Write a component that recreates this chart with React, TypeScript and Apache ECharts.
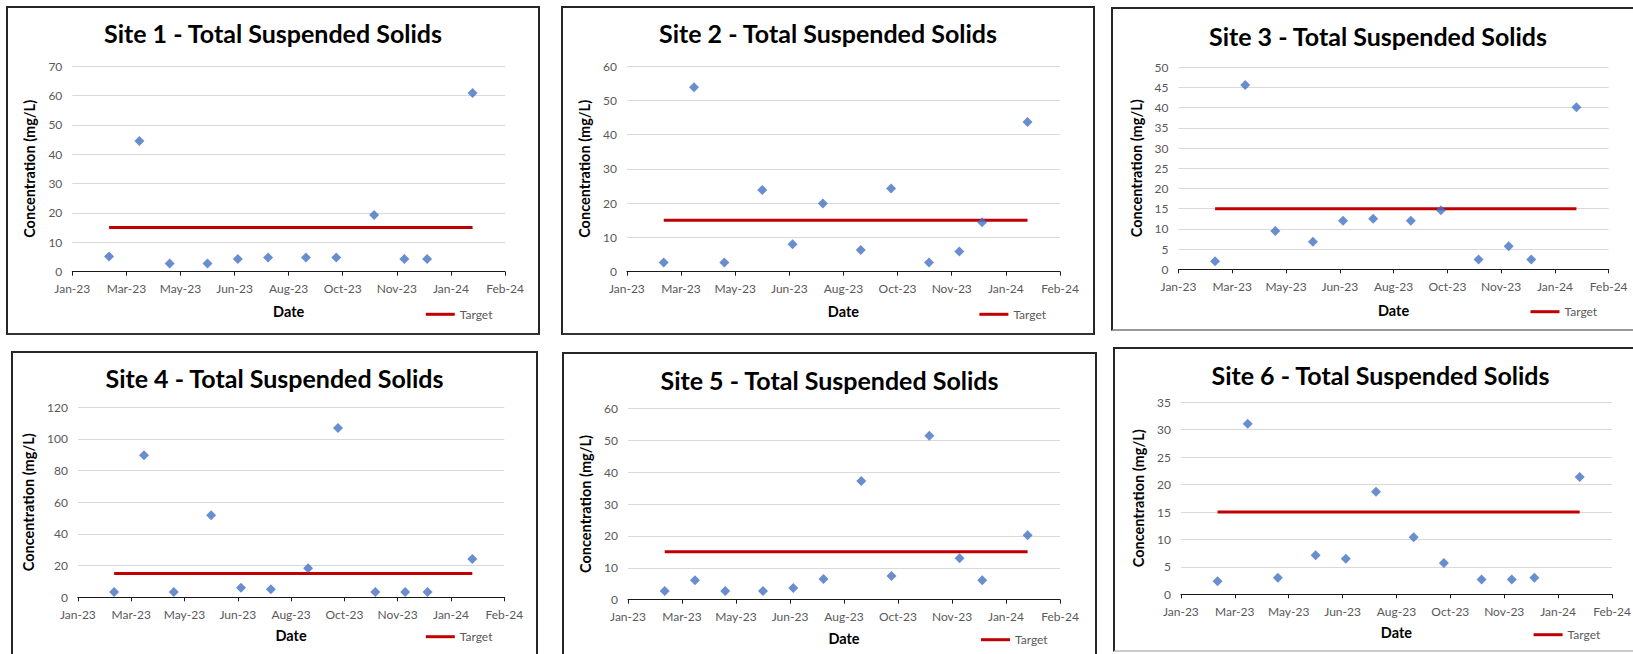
import React, { useEffect, useRef } from "react";
import * as echarts from "echarts";

// ---- Data ----
const sampleDates = [
  "2023-02-27", "2023-03-27", "2023-04-24", "2023-05-29", "2023-06-26", "2023-07-24",
  "2023-08-28", "2023-09-25", "2023-10-30", "2023-11-27", "2023-12-18", "2024-01-29",
];
const site1Tss = [5.2, 44.5, 2.8, 2.8, 4.3, 4.8, 4.8, 4.8, 19.3, 4.3, 4.3, 60.8];
const site2Tss = [2.7, 53.8, 2.7, 23.8, 8.0, 19.9, 6.3, 24.3, 2.7, 5.9, 14.4, 43.7];
const site3Tss = [2.0, 45.6, 9.5, 6.8, 12.0, 12.5, 12.0, 14.6, 2.4, 5.7, 2.4, 40.1];
const site4Tss = [3.3, 89.7, 3.4, 51.8, 6.1, 5.1, 18.3, 106.9, 3.4, 3.4, 3.4, 24.2];
const site5Tss = [2.7, 6.1, 2.7, 2.7, 3.7, 6.5, 37.2, 7.4, 51.4, 13.0, 6.1, 20.2];
const site6Tss = [2.4, 31.1, 3.0, 7.1, 6.5, 18.7, 10.4, 5.7, 2.7, 2.7, 3.0, 21.4];
const TARGET_TSS = 15;

const siteNames = ["Site 1", "Site 2", "Site 3", "Site 4", "Site 5", "Site 6"];
const siteValues = [site1Tss, site2Tss, site3Tss, site4Tss, site5Tss, site6Tss];
const yMaxes = [70, 60, 50, 120, 60, 35];
const ySteps = [10, 10, 5, 20, 10, 5];

// x axis bounds as Excel serial day numbers (Jan-23 .. Feb-24, every 50 days)
const X_MIN = 44950;
const X_MAX = 45350;
const X_STEP = 50;

const MONTHS = ["Jan", "Feb", "Mar", "Apr", "May", "Jun", "Jul", "Aug", "Sep", "Oct", "Nov", "Dec"];

function toSerial(iso: string): number {
  const [y, m, d] = iso.split("-").map(Number);
  return Date.UTC(y, m - 1, d) / 86400000 + 25569;
}
function serialLabel(v: number): string {
  const dt = new Date((v - 25569) * 86400000);
  return MONTHS[dt.getUTCMonth()] + "-" + String(dt.getUTCFullYear() % 100).padStart(2, "0");
}

// ---- Layout ----
const FONT = "Lato, 'Open Sans', sans-serif";

type Layout = {
  left: number; top: number; width: number; height: number;
  grid: { left: number; top: number; width: number; height: number };
  titleCY: number; legendX: number; legendCY: number; xNameCY: number; yNameDist: number;
  borderBottom: string;
};

const layouts: Layout[] = [
  { left: 6, top: 6, width: 534, height: 329, grid: { left: 66.3, top: 60, width: 432.7, height: 205.7 }, titleCY: 27, legendX: 419.8, legendCY: 309.3, xNameCY: 39.3, yNameDist: 37.5, borderBottom: "#333" },
  { left: 561, top: 6, width: 534, height: 329, grid: { left: 65.9, top: 60, width: 433.1, height: 205.7 }, titleCY: 27, legendX: 418.4, legendCY: 309.3, xNameCY: 39.3, yNameDist: 37.5, borderBottom: "#333" },
  { left: 1111, top: 7, width: 534, height: 324, grid: { left: 67.5, top: 60.3, width: 430.2, height: 202 }, titleCY: 29.2, legendX: 419.5, legendCY: 305.7, xNameCY: 40.7, yNameDist: 36, borderBottom: "#999" },
  { left: 11, top: 351, width: 527, height: 310, grid: { left: 66.9, top: 56.3, width: 426.4, height: 190 }, titleCY: 27.7, legendX: 414.8, legendCY: 286.7, xNameCY: 38, yNameDist: 46, borderBottom: "#333" },
  { left: 562, top: 352, width: 535, height: 310, grid: { left: 66, top: 56.3, width: 432, height: 191.4 }, titleCY: 28, legendX: 419, legendCY: 288.7, xNameCY: 38.6, yNameDist: 38, borderBottom: "#333" },
  { left: 1113, top: 347, width: 535, height: 305, grid: { left: 67.9, top: 55.3, width: 431.1, height: 192 }, titleCY: 28.8, legendX: 420.6, legendCY: 288.7, xNameCY: 38.4, yNameDist: 37.4, borderBottom: "#ccc" },
];

const TITLE_SIZE = 25;
const AXIS_NAME_SIZE = 14.5;
const TICK_SIZE = 12;

function buildOption(i: number) {
  const L = layouts[i];
  const pts = sampleDates.map((d, k) => [toSerial(d), siteValues[i][k]]);
  const target = sampleDates.map((d) => [toSerial(d), TARGET_TSS]);
  return {
    animation: false,
    textStyle: { fontFamily: FONT },
    title: {
      text: `${siteNames[i]} - Total Suspended Solids`,
      left: "center",
      top: L.titleCY - TITLE_SIZE * 0.52,
      padding: 0,
      textStyle: { fontFamily: FONT, fontSize: TITLE_SIZE, fontWeight: "bold", color: "#000" },
    },
    grid: { ...L.grid, containLabel: false },
    xAxis: {
      type: "value",
      min: X_MIN,
      max: X_MAX,
      interval: X_STEP,
      name: "Date",
      nameLocation: "middle",
      nameGap: L.xNameCY - AXIS_NAME_SIZE * 0.5,
      nameTextStyle: { fontFamily: FONT, fontSize: AXIS_NAME_SIZE, fontWeight: "bold", color: "#000" },
      axisLine: { show: true, onZero: false, lineStyle: { color: "#1a1a1a", width: 1 } },
      axisTick: { show: true, length: 4, lineStyle: { color: "#1a1a1a" } },
      splitLine: { show: false },
      axisLabel: { formatter: serialLabel, color: "#595959", fontSize: TICK_SIZE, fontFamily: FONT, margin: 11 },
    },
    yAxis: {
      type: "value",
      min: 0,
      max: yMaxes[i],
      interval: ySteps[i],
      name: "Concentration (mg/L)",
      nameLocation: "middle",
      nameRotate: 90,
      nameGap: L.yNameDist - AXIS_NAME_SIZE * 0.5,
      nameTextStyle: { fontFamily: FONT, fontSize: AXIS_NAME_SIZE, fontWeight: "bold", color: "#000" },
      axisLine: { show: false },
      axisTick: { show: false },
      splitLine: { show: true, lineStyle: { color: "#d9d9d9", width: 1 } },
      axisLabel: { color: "#595959", fontSize: TICK_SIZE, fontFamily: FONT, margin: 10 },
    },
    legend: {
      data: ["Target"],
      left: L.legendX,
      top: L.legendCY - 7,
      padding: 0,
      icon: "rect",
      itemWidth: 29,
      itemHeight: 3,
      itemGap: 4,
      textStyle: { color: "#595959", fontSize: TICK_SIZE, fontFamily: FONT },
    },
    series: [
      {
        name: "TSS",
        type: "scatter",
        data: pts,
        symbol: "diamond",
        symbolSize: 10,
        itemStyle: { color: "#4472C4" },
        z: 3,
      },
      {
        name: "Target",
        type: "line",
        data: target,
        symbol: "none",
        lineStyle: { color: "#C00000", width: 3 },
        itemStyle: { color: "#C00000" },
        z: 2,
      },
    ],
  };
}

function Panel({ index }: { index: number }) {
  const ref = useRef<HTMLDivElement>(null);
  const L = layouts[index];
  useEffect(() => {
    if (!ref.current) return;
    const chart = echarts.init(ref.current, undefined, { renderer: "svg" });
    chart.setOption(buildOption(index) as any);
    return () => chart.dispose();
  }, [index]);
  return (
    <>
      <div
        ref={ref}
        style={{ position: "absolute", left: L.left, top: L.top, width: L.width, height: L.height }}
      />
      <div
        style={{
          position: "absolute",
          left: L.left,
          top: L.top,
          width: L.width,
          height: L.height,
          boxSizing: "border-box",
          border: "2px solid #262626",
          borderBottomColor: L.borderBottom,
          pointerEvents: "none",
        }}
      />
    </>
  );
}

export default function App() {
  return (
    <div
      style={{
        position: "absolute",
        left: 0,
        top: 0,
        width: 1633,
        height: 654,
        overflow: "hidden",
        background: "#fff",
      }}
    >
      {layouts.map((_, i) => (
        <Panel key={i} index={i} />
      ))}
    </div>
  );
}
